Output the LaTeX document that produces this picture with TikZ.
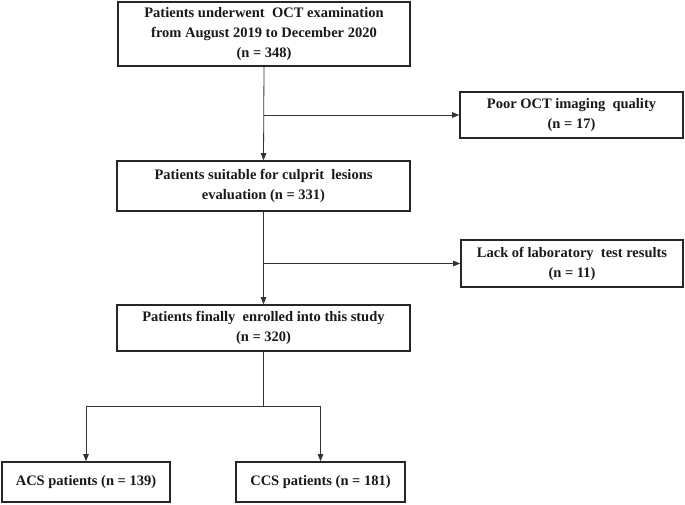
\documentclass[tikz,border=0pt]{standalone}
\usepackage{fontspec}
\setmainfont{Liberation Serif}
\usetikzlibrary{arrows.meta}
\begin{document}
\begin{tikzpicture}[x=1pt,y=-1pt,
  box/.style={draw=black!85, line width=1.6pt, inner sep=0pt, align=center,
    font=\fontsize{14.5}{20}\selectfont\bfseries, text=black!90},
  conn/.style={draw=black!80, line width=0.8pt},
  arr/.style={conn, -{Triangle[length=7pt,width=5.5pt]}}]
\useasboundingbox (0,0) rectangle (685,504);
\node[box, minimum width=292pt, minimum height=64pt] (b1) at (264,34)
  {Patients underwent\ \ OCT examination\\from August 2019 to December 2020\\(n = 348)};
\node[box, minimum width=223pt, minimum height=46pt] (poor) at (571.5,115)
  {Poor OCT imaging\ \ quality\\(n = 17)};
\node[box, minimum width=293pt, minimum height=50pt] (b2) at (263.5,186)
  {Patients suitable for culprit\ \ lesions\\evaluation (n = 331)};
\node[box, minimum width=222pt, minimum height=47pt] (lack) at (572,263.5)
  {Lack of laboratory\ \ test results\\(n = 11)};
\node[box, minimum width=293pt, minimum height=46pt] (b4) at (263.5,328)
  {Patients finally\ \ enrolled into this study\\(n = 320)};
\node[box, minimum width=168pt, minimum height=40pt] (acs) at (86,482)
  {ACS patients (n = 139)};
\node[box, minimum width=169pt, minimum height=40pt] (ccs) at (320.5,482)
  {CCS patients (n = 181)};
\coordinate (j1) at (b1.south |- poor.west);
\coordinate (j2) at (b2.south |- lack.west);
\coordinate (s) at (263.5,406);
\draw[arr] (b1.south) -- (b2.north);
\draw[arr] (j1) -- (poor.west);
\draw[arr] (b2.south) -- (b4.north);
\draw[arr] (j2) -- (lack.west);
\draw[conn] (b4.south) -- (s);
\draw[arr] (s) -| (acs.north);
\draw[arr] (s) -| (ccs.north);
\end{tikzpicture}
\end{document}
